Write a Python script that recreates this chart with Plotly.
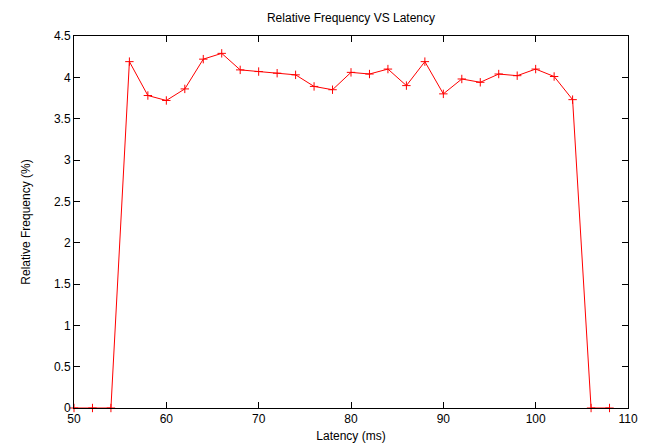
import plotly.graph_objects as go

latency = [50, 52, 54, 56, 58, 60, 62, 64, 66, 68, 70, 72, 74, 76, 78, 80, 82, 84, 86, 88,
           90, 92, 94, 96, 98, 100, 102, 104, 106, 108]
rel_freq = [0, 0, 0, 4.19, 3.78, 3.72, 3.86, 4.22, 4.29, 4.09, 4.07, 4.05, 4.03, 3.89, 3.85,
            4.06, 4.04, 4.10, 3.90, 4.19, 3.80, 3.98, 3.94, 4.04, 4.02, 4.10, 4.01, 3.73, 0, 0]

fig = go.Figure()
fig.add_trace(go.Scatter(
    x=latency, y=rel_freq, mode="lines+markers",
    line=dict(color="#ff0000", width=1),
    marker=dict(symbol="cross-thin", size=6, line=dict(color="#ff0000", width=1)),
    cliponaxis=False, showlegend=False,
))

font = dict(family="Liberation Sans, Arial, sans-serif", size=12, color="#000000")
axis_common = dict(
    showgrid=False, zeroline=False, showline=True, linecolor="#000000", linewidth=1,
    mirror="allticks", ticks="inside", ticklen=6, tickcolor="#000000", tickwidth=1,
    tickfont=font, automargin=False,
)
fig.update_layout(
    width=647, height=444,
    margin=dict(l=74, r=19, t=36, b=36),
    paper_bgcolor="white", plot_bgcolor="white",
    title=dict(text="Relative Frequency VS Latency", xref="paper", x=0.5, xanchor="center",
               y=1 - 18 / 444, yanchor="middle", font=font),
    xaxis=dict(range=[50, 110], tickvals=[50, 60, 70, 80, 90, 100, 110],
               title=dict(text="Latency (ms)", font=font, standoff=6), **axis_common),
    yaxis=dict(range=[0, 4.5], tickvals=[0, 0.5, 1, 1.5, 2, 2.5, 3, 3.5, 4, 4.5],
               ticktext=["0", "0.5", "1", "1.5", "2", "2.5", "3", "3.5", "4", "4.5"],
               title=dict(text="Relative Frequency (%)", font=font, standoff=20), **axis_common),
)
fig.write_html("out.html", config={"displayModeBar": False},
               post_script="document.body.style.margin='0';document.body.style.overflow='hidden';")
